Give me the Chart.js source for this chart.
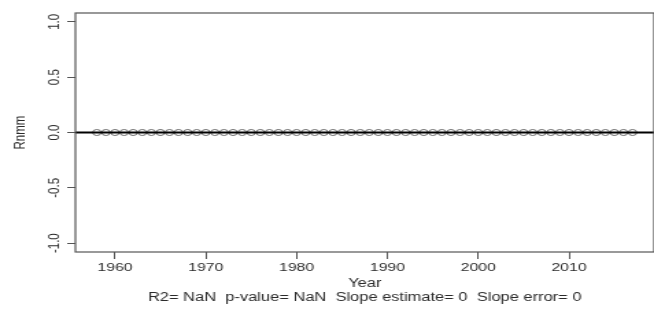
<!DOCTYPE html>
<html>
<head>
<meta charset="utf-8">
<script src="https://cdn.jsdelivr.net/npm/chart.js@4"></script>
<style>
  html, body { margin: 0; padding: 0; background: #fff; }
  /* the reference picture is stretched sideways, so the canvas is too */
  #trend { display: block; width: 654px !important; height: 313px !important; }
</style>
</head>
<body>
<canvas id="trend" width="477" height="313"></canvas>
<script>
// Rnmm by year (every value is 0 in the picture)
const years = [
  1958, 1959, 1960, 1961, 1962, 1963, 1964, 1965, 1966, 1967,
  1968, 1969, 1970, 1971, 1972, 1973, 1974, 1975, 1976, 1977,
  1978, 1979, 1980, 1981, 1982, 1983, 1984, 1985, 1986, 1987,
  1988, 1989, 1990, 1991, 1992, 1993, 1994, 1995, 1996, 1997,
  1998, 1999, 2000, 2001, 2002, 2003, 2004, 2005, 2006, 2007,
  2008, 2009, 2010, 2011, 2012, 2013, 2014, 2015, 2016, 2017
];
const rnmm = [
  0, 0, 0, 0, 0, 0, 0, 0, 0, 0,
  0, 0, 0, 0, 0, 0, 0, 0, 0, 0,
  0, 0, 0, 0, 0, 0, 0, 0, 0, 0,
  0, 0, 0, 0, 0, 0, 0, 0, 0, 0,
  0, 0, 0, 0, 0, 0, 0, 0, 0, 0,
  0, 0, 0, 0, 0, 0, 0, 0, 0, 0
];
const xTicks = [1960, 1970, 1980, 1990, 2000, 2010];
const yTicks = [-1.0, -0.5, 0.0, 0.5, 1.0];
const yTickLabels = ['-1.0', '-0.5', '0.0', '0.5', '1.0'];
const hLine = 0;
const xTitle = 'Year';
const yTitle = 'Rnmm';
const statsLine = 'R2= NaN  p-value= NaN  Slope estimate= 0  Slope error= 0';

const FONT = '"Liberation Sans", Arial, sans-serif';
const TEXT = '#2b2b2b';
const AXIS = '#555';

// box, zero line and the R style text bits
const rDecor = {
  id: 'rDecor',
  afterDatasetsDraw(chart) {
    const { ctx, chartArea: a, scales } = chart;
    const y0 = scales.y.getPixelForValue(hLine);
    ctx.save();
    ctx.strokeStyle = '#000';
    ctx.lineWidth = 2;
    ctx.beginPath();
    ctx.moveTo(a.left, y0);
    ctx.lineTo(a.right, y0);
    ctx.stroke();

    ctx.strokeStyle = AXIS;
    ctx.lineWidth = 1.2;
    ctx.strokeRect(a.left, a.top, a.right - a.left, a.bottom - a.top);

    ctx.fillStyle = TEXT;
    ctx.font = '11.5px ' + FONT;
    ctx.textAlign = 'center';
    ctx.textBaseline = 'middle';
    yTicks.forEach((v, i) => {
      const py = scales.y.getPixelForValue(v);
      ctx.save();
      ctx.translate(a.left - 15, py);
      ctx.rotate(-Math.PI / 2);
      ctx.fillText(yTickLabels[i], 0, 0);
      ctx.restore();
    });

    ctx.save();
    ctx.translate(14.5, (a.top + a.bottom) / 2);
    ctx.rotate(-Math.PI / 2);
    ctx.fillText(yTitle, 0, 0);
    ctx.restore();

    const cx = (a.left + a.right) / 2;
    ctx.font = '12px ' + FONT;
    ctx.fillText(xTitle, cx, 284);
    ctx.fillText(statsLine, cx, 298);
    ctx.restore();
  }
};

new Chart(document.getElementById('trend'), {
  type: 'line',
  data: {
    labels: years,
    datasets: [{
      label: yTitle,
      data: years.map((yr, i) => ({ x: yr, y: rnmm[i] })),
      showLine: false,
      pointStyle: 'circle',
      pointRadius: 3,
      pointBorderWidth: 1,
      pointBorderColor: '#6a6a6a',
      pointBackgroundColor: 'rgba(255,255,255,0)'
    }]
  },
  options: {
    responsive: false,
    animation: false,
    devicePixelRatio: 1,
    layout: { autoPadding: false, padding: { top: 13, left: 0, right: 0, bottom: 0 } },
    plugins: { legend: { display: false }, tooltip: { enabled: false } },
    scales: {
      x: {
        type: 'linear',
        min: 1955.64,
        max: 2019.36,
        afterBuildTicks: s => { s.ticks = xTicks.map(v => ({ value: v })); },
        afterFit: s => { s.height = 61; s.paddingLeft = 0; s.paddingRight = 0; },
        grid: { display: true, drawOnChartArea: false, drawTicks: true, tickLength: 7, color: AXIS, lineWidth: 1 },
        border: { display: false },
        ticks: {
          font: { family: FONT, size: 11.5 },
          color: TEXT,
          padding: 2,
          maxRotation: 0,
          callback: v => String(v)
        }
      },
      y: {
        min: -1.08,
        max: 1.08,
        afterBuildTicks: s => { s.ticks = yTicks.map(v => ({ value: v })); },
        afterFit: s => { s.width = 55; },
        grid: { display: true, drawOnChartArea: false, drawTicks: true, tickLength: 6, color: AXIS, lineWidth: 1 },
        border: { display: false },
        ticks: { display: false }
      }
    }
  },
  plugins: [rDecor]
});
</script>
</body>
</html>
